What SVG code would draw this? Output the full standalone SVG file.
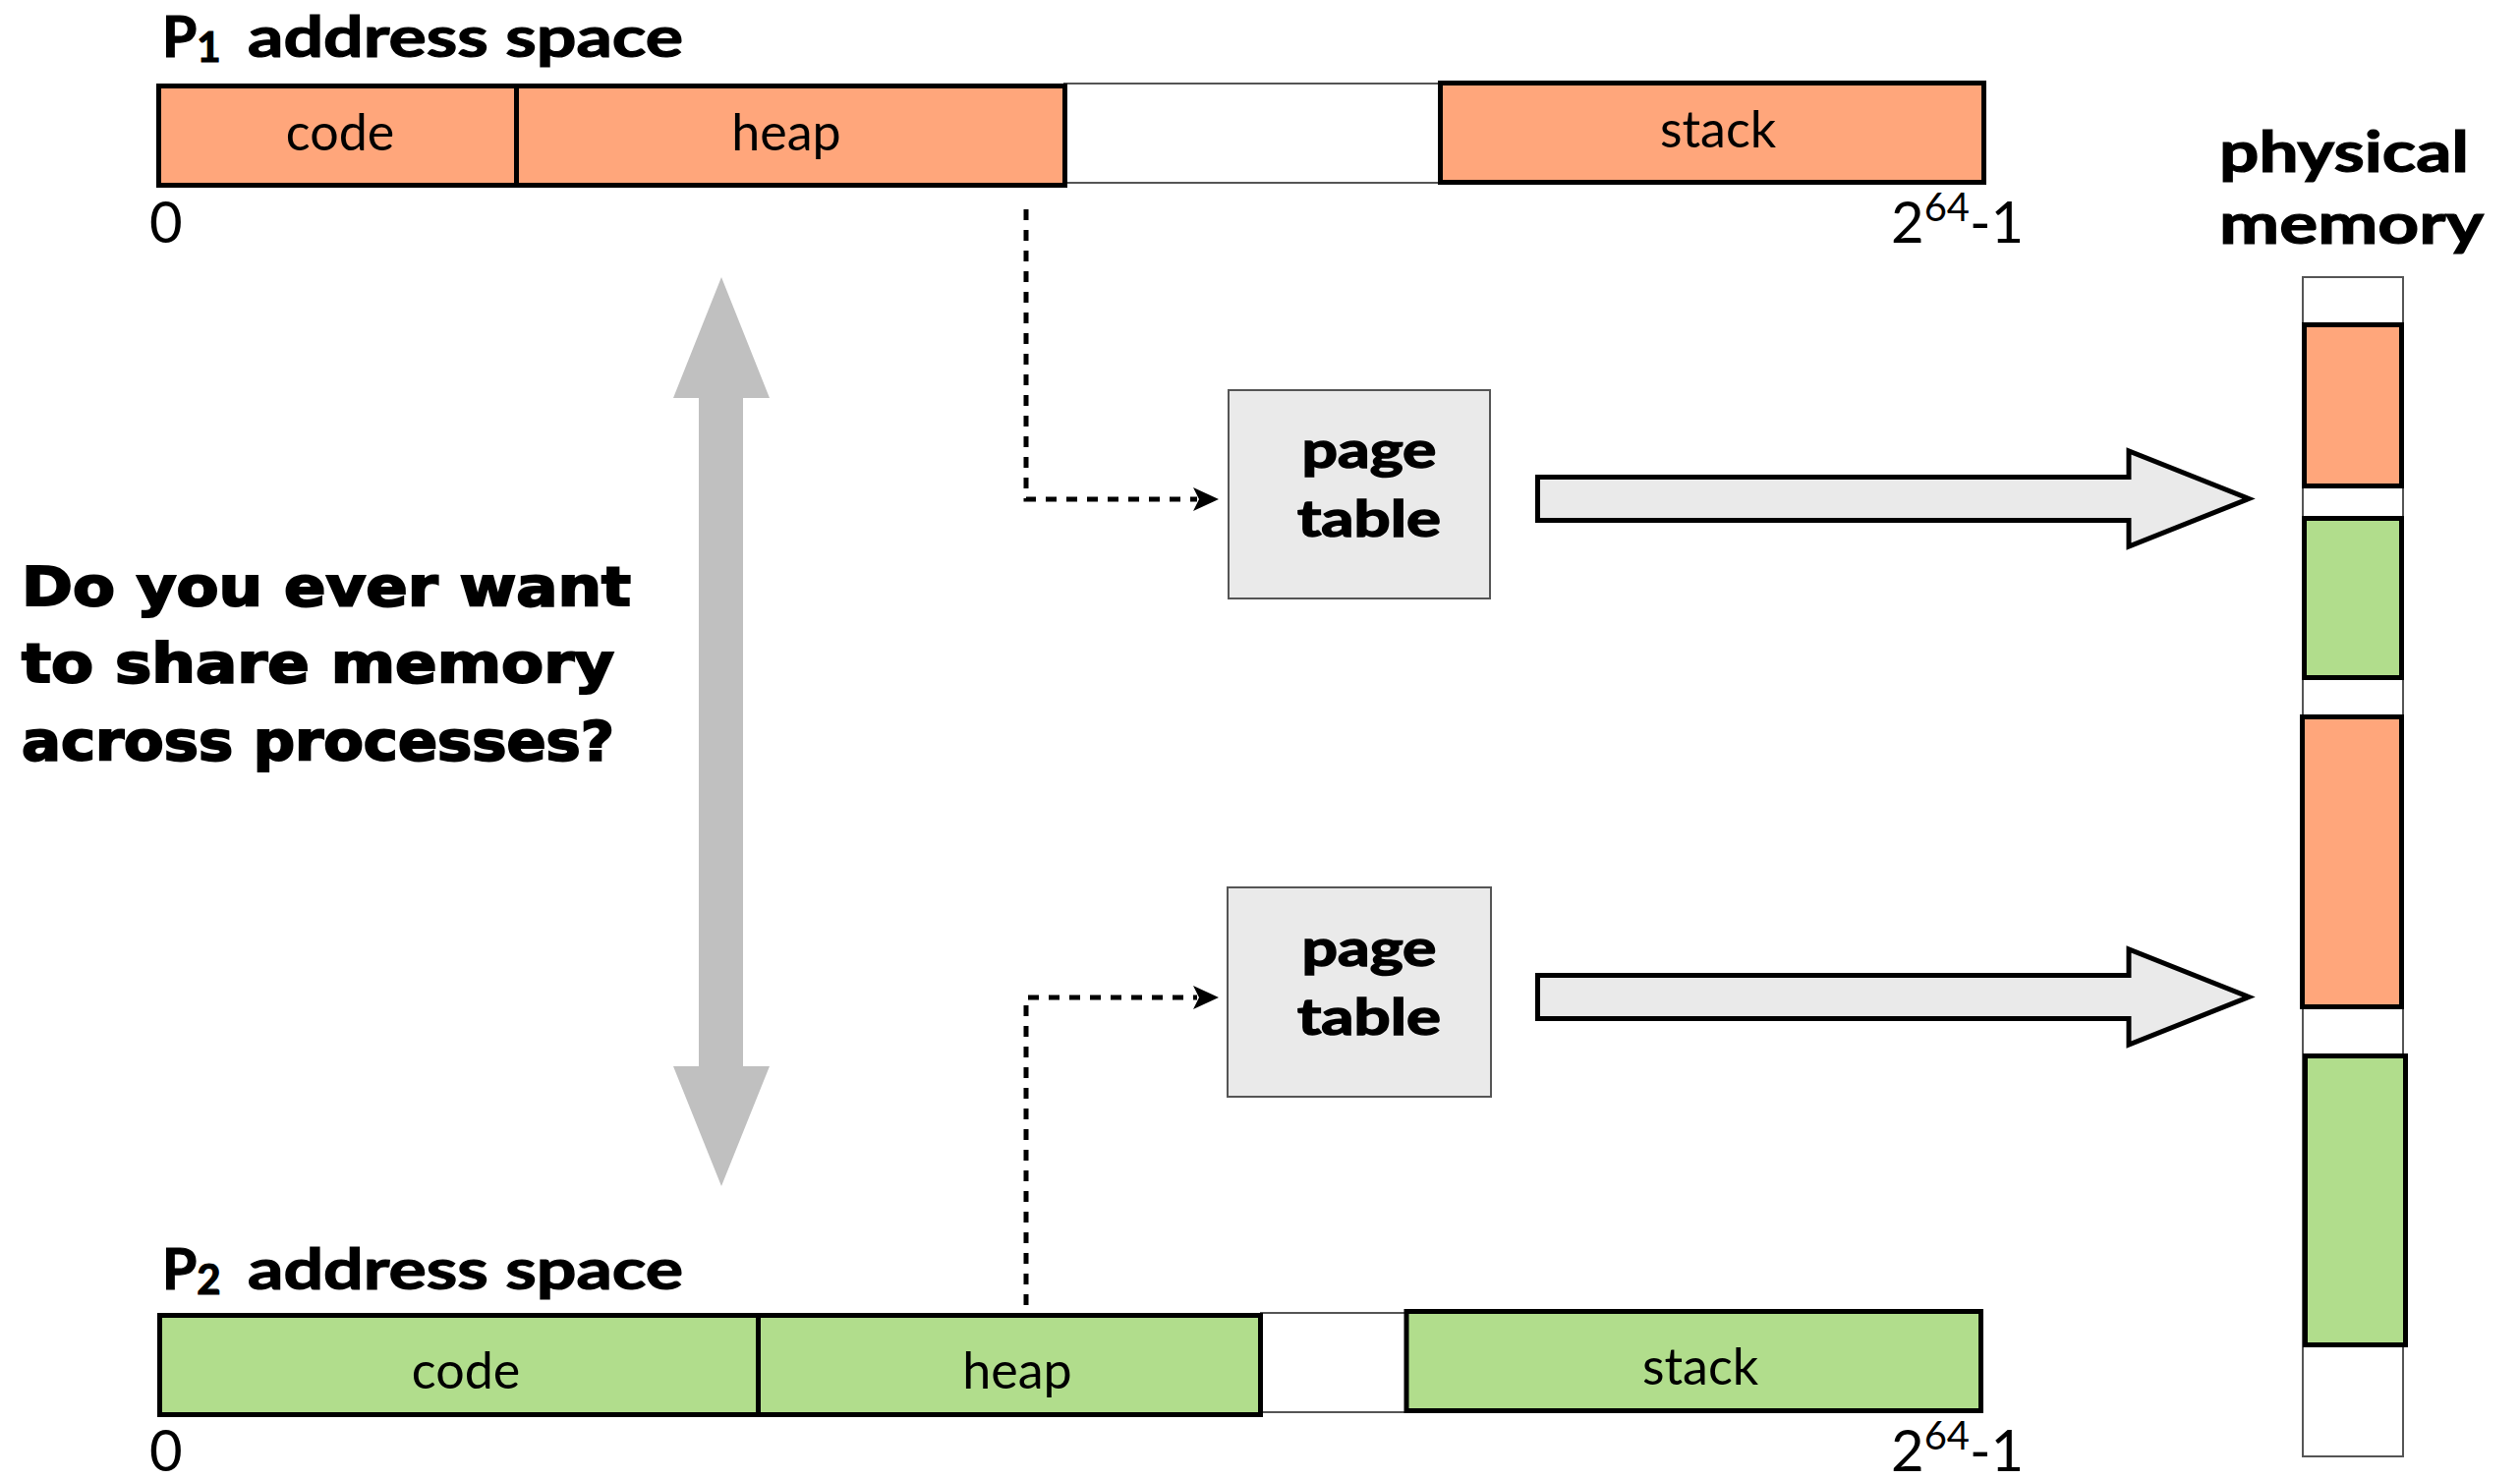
<svg xmlns="http://www.w3.org/2000/svg" width="2564" height="1505" viewBox="0 0 2564 1505">
  <style>
    .seg-o { fill: #FFA67B; stroke: #000; stroke-width: 5; }
    .seg-g { fill: #B1DD8C; stroke: #000; stroke-width: 5; }
    .gap { fill: #fff; stroke: #555; stroke-width: 2; }
    .pt { fill: #EAEAEA; stroke: #555; stroke-width: 2; }
    .big-arrow { fill: #EAEAEA; stroke: #000; stroke-width: 5; stroke-linejoin: miter; }
    .lbl { font-family: Lato, "Open Sans", sans-serif; font-size: 52px; fill: #000; text-anchor: middle; }
    .num { font-family: Lato, "Open Sans", sans-serif; font-size: 58px; fill: #000; }
    .sup { font-size: 40px; }
    .title { font-family: Lato, "Open Sans", sans-serif; font-weight: bold; font-size: 57px; fill: #000; stroke: #000; stroke-width: 1.2; }
    .ptxt { font-family: Lato, "Open Sans", sans-serif; font-weight: bold; font-size: 51px; fill: #000; stroke: #000; stroke-width: 1.5; text-anchor: middle; }
    .q { font-family: "DejaVu Sans", sans-serif; font-weight: bold; font-size: 55px; fill: #000; stroke: #000; stroke-width: 2; }
    .dash { fill: none; stroke: #000; stroke-width: 5; stroke-dasharray: 11 10; }
  </style>
  <defs>
    <marker id="tip" markerUnits="userSpaceOnUse" markerWidth="30" markerHeight="26" refX="4" refY="12" orient="auto">
      <path d="M0,0 L26,12 L0,24 L6,12 Z" fill="#000"/>
    </marker>
  </defs>

  <rect width="2564" height="1505" fill="#fff"/>

  <!-- process 1 address space -->
  <g id="p1-space">
    <text class="title" x="165" y="58">P<tspan font-size="42" dy="5">1</tspan></text>
    <text class="title" x="252" y="58" textLength="443" lengthAdjust="spacingAndGlyphs">address space</text>
    <rect class="gap" x="1083" y="85" width="381" height="101"/>
    <rect class="seg-o" x="161.5" y="87.5" width="364" height="101"/>
    <rect class="seg-o" x="525.5" y="87.5" width="558" height="101"/>
    <rect class="seg-o" x="1465.5" y="84.5" width="553" height="101"/>
    <text class="lbl" x="346" y="153">code</text>
    <text class="lbl" x="800" y="153">heap</text>
    <text class="lbl" x="1748" y="150">stack</text>
    <text class="num" x="152" y="247">0</text>
    <text class="num" x="1924" y="247">2<tspan class="sup" dy="-22">64</tspan><tspan dy="22">-1</tspan></text>
  </g>

  <!-- process 2 address space -->
  <g id="p2-space">
    <text class="title" x="165" y="1312">P<tspan font-size="42" dy="5">2</tspan></text>
    <text class="title" x="252" y="1312" textLength="443" lengthAdjust="spacingAndGlyphs">address space</text>
    <rect class="gap" x="1283" y="1336" width="148" height="101"/>
    <rect class="seg-g" x="162.5" y="1338.5" width="609" height="101"/>
    <rect class="seg-g" x="771.5" y="1338.5" width="511" height="101"/>
    <rect class="seg-g" x="1431" y="1334.5" width="584.5" height="101"/>
    <text class="lbl" x="474" y="1413">code</text>
    <text class="lbl" x="1035" y="1413">heap</text>
    <text class="lbl" x="1730" y="1409">stack</text>
    <text class="num" x="152" y="1497">0</text>
    <text class="num" x="1924" y="1497">2<tspan class="sup" dy="-22">64</tspan><tspan dy="22">-1</tspan></text>
  </g>

  <!-- page tables -->
  <g id="page-table-1">
    <rect class="pt" x="1250" y="397" width="266" height="212"/>
    <text class="ptxt" x="1393" y="476" textLength="137" lengthAdjust="spacingAndGlyphs">page</text>
    <text class="ptxt" x="1393" y="546" textLength="146" lengthAdjust="spacingAndGlyphs">table</text>
  </g>
  <g id="page-table-2">
    <rect class="pt" x="1249" y="903" width="268" height="213"/>
    <text class="ptxt" x="1393" y="983" textLength="137" lengthAdjust="spacingAndGlyphs">page</text>
    <text class="ptxt" x="1393" y="1053" textLength="146" lengthAdjust="spacingAndGlyphs">table</text>
  </g>

  <!-- physical memory column -->
  <g id="physical-memory">
    <text class="title" x="2258" y="175" textLength="254" lengthAdjust="spacingAndGlyphs">physical</text>
    <text class="title" x="2258" y="248" textLength="269" lengthAdjust="spacingAndGlyphs">memory</text>
    <rect class="gap" x="2343" y="282" width="102" height="1200"/>
    <rect class="seg-o" x="2344.5" y="330.5" width="99" height="164"/>
    <rect class="seg-g" x="2344.5" y="527.5" width="99" height="162"/>
    <rect class="seg-o" x="2342.5" y="729.5" width="101" height="295"/>
    <rect class="seg-g" x="2345.5" y="1074.5" width="102" height="294"/>
  </g>

  <!-- question -->
  <g id="question">
    <text class="q" x="22" y="616" textLength="620" lengthAdjust="spacingAndGlyphs">Do you ever want</text>
    <text class="q" x="22" y="694" textLength="603" lengthAdjust="spacingAndGlyphs">to share memory</text>
    <text class="q" x="22" y="773" textLength="603" lengthAdjust="spacingAndGlyphs">across processes?</text>
  </g>

  <!-- connectors -->
  <g id="connectors">
    <polygon fill="#C0C0C0" points="734,282 783,405 756,405 756,1085 783,1085 734,1207 685,1085 711,1085 711,405 685,405"/>
    <path class="dash" d="M1044,213 V508 H1218" marker-end="url(#tip)"/>
    <path class="dash" d="M1044,1328 V1015 H1218" marker-end="url(#tip)"/>
    <path class="big-arrow" d="M1564.5,485.5 H2166 V459 L2288,507.5 L2166,556 V529.5 H1564.5 Z"/>
    <path class="big-arrow" d="M1564.5,992.5 H2166 V966 L2288,1014.5 L2166,1063 V1036.5 H1564.5 Z"/>
  </g>
</svg>
